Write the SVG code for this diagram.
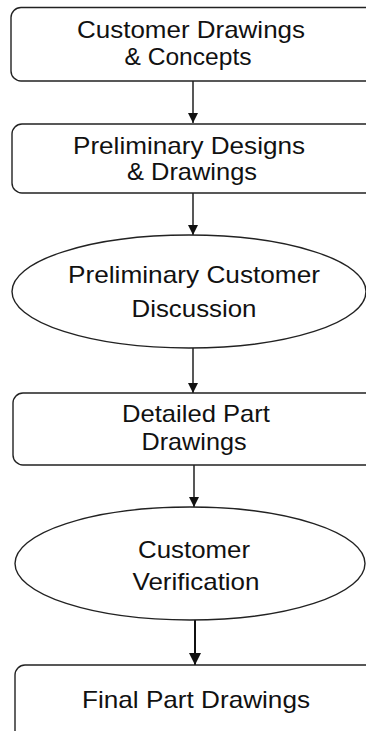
<svg xmlns="http://www.w3.org/2000/svg" width="366" height="731" viewBox="0 0 366 731">
<defs>
<style>
.shape{fill:#fff;stroke:#222;stroke-width:1.4}
.lbl{font-family:"Liberation Sans",Arial,sans-serif;font-size:24px;fill:#111;text-anchor:middle}
.conn{stroke:#111;stroke-width:1.4;fill:none}
</style>
<marker id="ah" viewBox="0 0 10 10" refX="10" refY="5" markerWidth="10" markerHeight="10" markerUnits="userSpaceOnUse" orient="auto">
<path d="M0,0 L10,5 L0,10 Z" fill="#111"/>
</marker>
<marker id="ah2" viewBox="0 0 10 10" refX="10" refY="5" markerWidth="12" markerHeight="12" markerUnits="userSpaceOnUse" orient="auto">
<path d="M0,0 L10,5 L0,10 Z" fill="#111"/>
</marker>
</defs>
<rect width="366" height="731" fill="#fff"/>
<g id="connectors">
<line class="conn" x1="193" y1="81" x2="193" y2="123" marker-end="url(#ah)"/>
<line class="conn" x1="193" y1="193" x2="193" y2="235" marker-end="url(#ah)"/>
<line class="conn" x1="193" y1="348" x2="193" y2="393" marker-end="url(#ah)"/>
<line class="conn" x1="194" y1="465" x2="194" y2="507" marker-end="url(#ah)"/>
<line class="conn" style="stroke-width:2" x1="195" y1="620" x2="195" y2="665" marker-end="url(#ah2)"/>
</g>
<g id="n1">
<rect class="shape" x="11" y="7.5" width="370" height="73.5" rx="10"/>
<text class="lbl" x="191" y="38" textLength="228" lengthAdjust="spacingAndGlyphs">Customer Drawings</text>
<text class="lbl" x="188" y="65" textLength="127" lengthAdjust="spacingAndGlyphs">&amp; Concepts</text>
</g>
<g id="n2">
<rect class="shape" x="12" y="124" width="370" height="69" rx="10"/>
<text class="lbl" x="189" y="154" textLength="232" lengthAdjust="spacingAndGlyphs">Preliminary Designs</text>
<text class="lbl" x="192" y="180" textLength="130" lengthAdjust="spacingAndGlyphs">&amp; Drawings</text>
</g>
<g id="n3">
<ellipse class="shape" cx="189" cy="291.5" rx="177" ry="56.5"/>
<text class="lbl" x="194" y="283" textLength="252" lengthAdjust="spacingAndGlyphs">Preliminary Customer</text>
<text class="lbl" x="194" y="317" textLength="125" lengthAdjust="spacingAndGlyphs">Discussion</text>
</g>
<g id="n4">
<rect class="shape" x="13" y="393" width="370" height="72" rx="10"/>
<text class="lbl" x="196" y="422" textLength="148" lengthAdjust="spacingAndGlyphs">Detailed Part</text>
<text class="lbl" x="194" y="450" textLength="105" lengthAdjust="spacingAndGlyphs">Drawings</text>
</g>
<g id="n5">
<ellipse class="shape" cx="190" cy="563.5" rx="175" ry="56.5"/>
<text class="lbl" x="194" y="558" textLength="112" lengthAdjust="spacingAndGlyphs">Customer</text>
<text class="lbl" x="196" y="590" textLength="127" lengthAdjust="spacingAndGlyphs">Verification</text>
</g>
<g id="n6">
<rect class="shape" x="15" y="665" width="370" height="100" rx="10"/>
<text class="lbl" x="196" y="708" textLength="228" lengthAdjust="spacingAndGlyphs">Final Part Drawings</text>
</g>
</svg>
